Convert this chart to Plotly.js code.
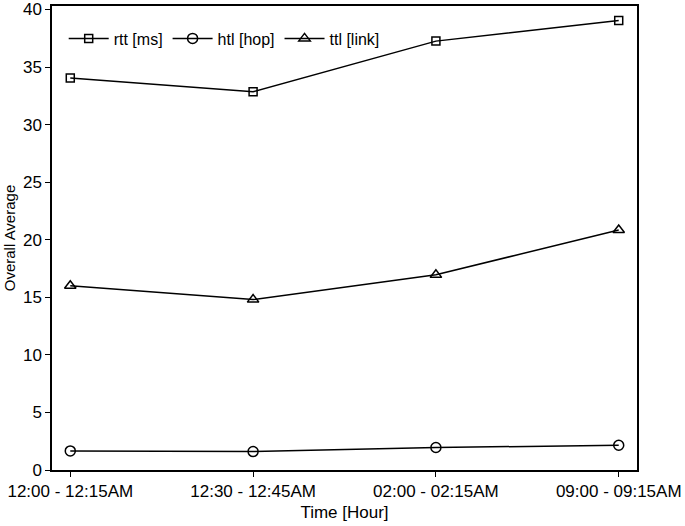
<!DOCTYPE html>
<html>
<head>
<meta charset="utf-8">
<script src="https://cdn.plot.ly/plotly-3.0.1.min.js"></script>
<style>
  html, body { margin: 0; padding: 0; background: #fff; }
  #graphDiv { width: 685px; height: 526px; }
</style>
</head>
<body>
<div id="graphDiv"></div>
<script>
// Time slots on the x axis
var periods = ["12:00 - 12:15AM", "12:30 - 12:45AM", "02:00 - 02:15AM", "09:00 - 09:15AM"];

// Series values
var rtt = [34.05, 32.85, 37.25, 39.05];
var htl = [1.66, 1.6, 1.95, 2.15];
var ttl = [16.0, 14.8, 16.95, 20.85];

var lineStyle = { color: "#000", width: 1.5 };

var trace1 = {
    x: periods,
    y: rtt,
    mode: "lines+markers",
    type: "scatter",
    name: "rtt [ms]",
    line: lineStyle,
    marker: { symbol: "square-open", size: 8, color: "#000", line: { width: 1.5 } }
};

var trace2 = {
    x: periods,
    y: htl,
    mode: "lines+markers",
    type: "scatter",
    name: "htl [hop]",
    line: lineStyle,
    marker: { symbol: "circle-open", size: 10, color: "#000", line: { width: 1.5 } }
};

var trace3 = {
    x: periods,
    y: ttl,
    mode: "lines+markers",
    type: "scatter",
    name: "ttl [link]",
    line: lineStyle,
    marker: { symbol: "triangle-up-open", size: 10, color: "#000", line: { width: 1.5 } }
};

var data = [trace1, trace2, trace3];

var layout = {
    width: 685,
    height: 526,
    margin: { l: 52, r: 48, t: 6, b: 56 },
    paper_bgcolor: "#fff",
    plot_bgcolor: "#fff",
    font: { family: "Liberation Sans, Arial, sans-serif", color: "#000", size: 15 },
    showlegend: true,
    legend: {
        orientation: "h",
        x: 0.02, y: 0.93,
        xanchor: "left", yanchor: "middle",
        bgcolor: "rgba(0,0,0,0)",
        font: { size: 16 },
        itemwidth: 40
    },
    xaxis: {
        type: "category",
        range: [-0.1, 3.1],
        title: { text: "Time [Hour]", font: { size: 17 }, standoff: 6 },
        showline: true, linecolor: "#000", linewidth: 1.5, mirror: true,
        ticks: "outside", ticklen: 5, tickcolor: "#000",
        showgrid: false, zeroline: false,
        tickfont: { size: 17 }
    },
    yaxis: {
        range: [0, 40.3],
        tickvals: [0, 5, 10, 15, 20, 25, 30, 35, 40],
        title: { text: "Overall Average", font: { size: 15 }, standoff: 4 },
        showline: true, linecolor: "#000", linewidth: 1.5, mirror: true,
        ticks: "outside", ticklen: 5, tickcolor: "#000",
        showgrid: false, zeroline: false,
        tickfont: { size: 17 }
    }
};

graphDiv = document.getElementById("graphDiv");
Plotly.newPlot(graphDiv, data, layout, { displayModeBar: false });
</script>
</body>
</html>
